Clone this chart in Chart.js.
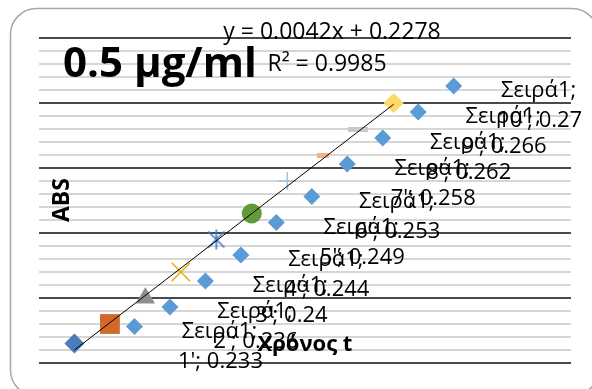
<!DOCTYPE html>
<html>
<head>
<meta charset="utf-8">
<script src="https://cdn.jsdelivr.net/npm/chart.js@4.4.0/dist/chart.umd.min.js"></script>
<style>
  html, body { margin: 0; padding: 0; background: #fff; }
</style>
</head>
<body>
<canvas id="absChart" width="592" height="389"></canvas>
<script>
// data
const seriesName = 'Σειρά1';
const timeLabels = ["1'", "2'", "3'", "4'", "5'", "6'", "7'", "8'", "9'", "10'"];
const times = [1, 2, 3, 4, 5, 6, 7, 8, 9, 10];
const absValues = [0.233, 0.236, 0.24, 0.244, 0.249, 0.253, 0.258, 0.262, 0.266, 0.27];
const trendSlope = 0.0042;
const trendIntercept = 0.2278;
const rSquared = 0.9985;
const chartTitle = '0.5 µg/ml';
const xTitle = 'Χρόνος t';
const yTitle = 'ABS';

// excel style "vary colours by point" markers
function makeMarker(w, h, draw) {
    var c = document.createElement('canvas');
    c.width = w;
    c.height = h;
    draw(c.getContext('2d'), w, h);
    return c;
}
var starMarker = makeMarker(22, 22, function (g) {
    g.strokeStyle = '#4472c4';
    g.lineWidth = 1.6;
    g.beginPath();
    g.moveTo(3, 3); g.lineTo(19, 19);
    g.moveTo(19, 3); g.lineTo(3, 19);
    g.moveTo(11, 1); g.lineTo(11, 21);
    g.stroke();
});
var shortDash = makeMarker(12, 5, function (g, w, h) {
    g.fillStyle = '#f4b183';
    g.fillRect(0, 0, w, h);
});
var longDash = makeMarker(20, 5, function (g, w, h) {
    g.fillStyle = '#c9c9c9';
    g.fillRect(0, 0, w, h);
});

var markerStyles = ['rectRot', 'rect', 'triangle', 'crossRot', starMarker, 'circle', 'cross', shortDash, longDash, 'rectRot'];
var markerSizes = [10, 14, 11, 13, 10, 10, 9, 6, 10, 10];
var markerColors = ['#4a7ebb', '#d2692a', '#8e8e8e', '#e8ad00', '#4472c4', '#62993a', '#9dc3e6', '#f4b183', '#c9c9c9', '#ffd966'];
var markerBorders = [0, 0, 0, 1.5, 1.5, 0, 1.5, 0, 0, 0];

var labelFont = '"Open Sans", "Noto Sans", sans-serif';

var overlay = {
    id: 'overlay',
    beforeDraw: function (chart) {
        var ctx = chart.ctx;
        ctx.save();
        ctx.fillStyle = '#fff';
        ctx.fillRect(0, 0, chart.width, chart.height);
        // rounded chart border, runs off the bottom/right edge
        var l = 10.5, t = 8.5, r = 598, b = 396, rad = 26;
        ctx.beginPath();
        ctx.moveTo(l + rad, t);
        ctx.lineTo(r - rad, t);
        ctx.arcTo(r, t, r, t + rad, rad);
        ctx.lineTo(r, b - rad);
        ctx.arcTo(r, b, r - rad, b, rad);
        ctx.lineTo(l + rad, b);
        ctx.arcTo(l, b, l, b - rad, rad);
        ctx.lineTo(l, t + rad);
        ctx.arcTo(l, t, l + rad, t, rad);
        ctx.strokeStyle = '#a6a6a6';
        ctx.lineWidth = 1.5;
        ctx.stroke();
        ctx.restore();
    },
    afterDatasetsDraw: function (chart) {
        var ctx = chart.ctx;
        var x = chart.scales.x, y = chart.scales.y;
        ctx.save();

        // data labels with legend key
        ctx.font = '22px ' + labelFont;
        ctx.textAlign = 'center';
        ctx.textBaseline = 'alphabetic';
        absValues.forEach(function (v, i) {
            var px = x.getPixelForValue(times[i]);
            var py = y.getPixelForValue(v);
            var kx = px + 60, ky = py - 17;
            ctx.fillStyle = '#5b9bd5';
            ctx.beginPath();
            ctx.moveTo(kx, ky - 8.5);
            ctx.lineTo(kx + 8.5, ky);
            ctx.lineTo(kx, ky + 8.5);
            ctx.lineTo(kx - 8.5, ky);
            ctx.closePath();
            ctx.fill();
            ctx.fillStyle = '#000';
            ctx.fillText(seriesName + ';', px + 145, py - 6);
            ctx.fillText(timeLabels[i] + '; ' + v, px + 146, py + 24);
        });

        // axis titles
        ctx.font = 'bold 22px ' + labelFont;
        ctx.textBaseline = 'middle';
        ctx.fillText(xTitle, (chart.chartArea.left + chart.chartArea.right) / 2, 345);
        ctx.save();
        ctx.translate(62, 200);
        ctx.rotate(-Math.PI / 2);
        ctx.font = 'bold 23px ' + labelFont;
        ctx.fillText(yTitle, 0, 0);
        ctx.restore();

        // trendline label
        ctx.font = '23px ' + labelFont;
        ctx.textBaseline = 'alphabetic';
        ctx.fillText('y = ' + trendSlope + 'x + ' + trendIntercept, 332, 39);
        ctx.fillText('R² = ' + rSquared, 327, 71);

        // chart title
        ctx.font = 'bold 42px ' + labelFont;
        ctx.textAlign = 'left';
        ctx.fillText(chartTitle, 63, 77);
        ctx.restore();
    }
};

var trendPoints = [times[0], times[times.length - 1]].map(function (t) {
    return { x: t, y: trendSlope * t + trendIntercept };
});

var absChart = new Chart(document.getElementById('absChart'), {
    type: 'scatter',
    data: {
        datasets: [{
            label: 'trend',
            data: trendPoints,
            showLine: true,
            borderColor: '#000',
            borderWidth: 1,
            pointRadius: 0,
            order: 0
        }, {
            label: seriesName,
            data: times.map(function (t, i) { return { x: t, y: absValues[i] }; }),
            pointStyle: markerStyles,
            pointRadius: markerSizes,
            backgroundColor: markerColors,
            borderColor: markerColors,
            borderWidth: markerBorders,
            order: 1
        }]
    },
    options: {
        responsive: false,
        animation: false,
        events: [],
        layout: { padding: { left: 39, right: 21, top: 38, bottom: 26 } },
        plugins: {
            legend: { display: false },
            tooltip: { enabled: false }
        },
        scales: {
            x: {
                type: 'linear',
                min: 0,
                max: 15,
                display: false
            },
            y: {
                type: 'linear',
                min: 0.23,
                max: 0.28,
                ticks: { display: false, stepSize: 0.002, maxTicksLimit: 40 },
                border: { display: false },
                grid: {
                    drawTicks: false,
                    tickLength: 0,
                    lineWidth: 2,
                    color: function (c) {
                        var v = c.tick ? c.tick.value : 0;
                        return Math.round(v * 1000) % 10 === 0 ? '#4a4a4a' : '#d6d6d6';
                    }
                },
                afterFit: function (s) { s.width = 0; }
            }
        }
    },
    plugins: [overlay]
});
</script>
</body>
</html>
